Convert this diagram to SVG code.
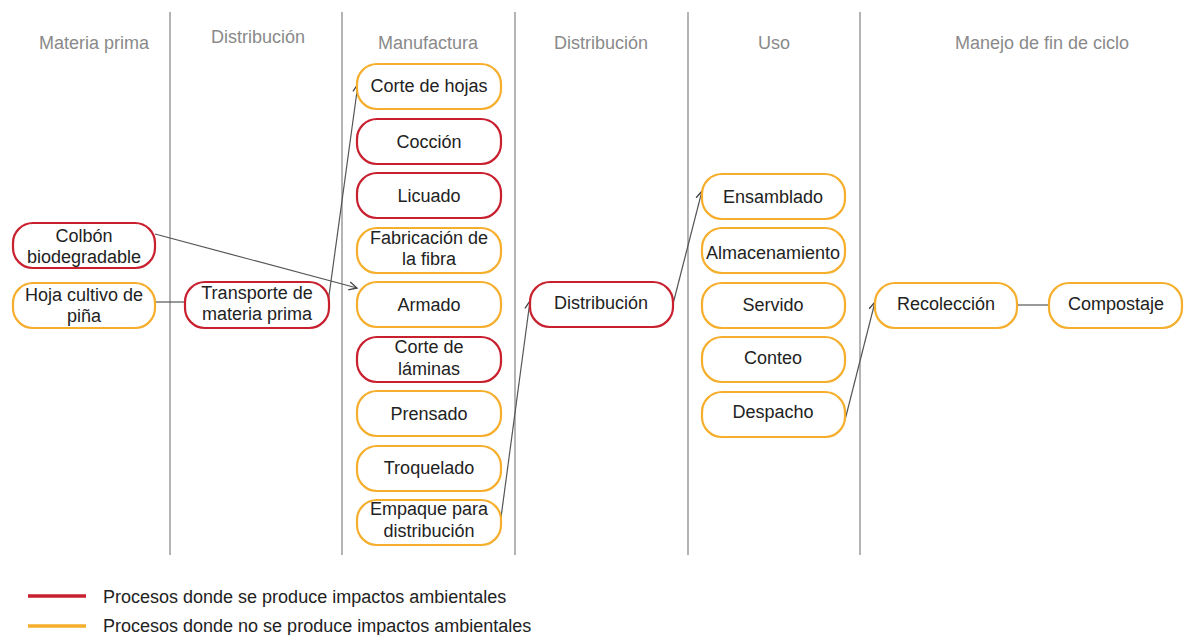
<svg xmlns="http://www.w3.org/2000/svg" width="1184" height="635" viewBox="0 0 1184 635">
<style>
  text { font-family: "Liberation Sans", Arial, sans-serif; font-size: 18px; text-anchor: middle; fill: #222; }
  .hdr { fill: #8a8a8a; }
  .leg { text-anchor: start; }
  .sep { stroke: #b4b4b4; stroke-width: 2; }
  .red { fill: #fff; stroke: #c8202f; stroke-width: 2.2; }
  .org { fill: #fff; stroke: #f6ae2d; stroke-width: 2.2; }
  .con { fill: none; stroke: #555; stroke-width: 1.2; }
</style>
<defs>
  <marker id="arr" markerUnits="userSpaceOnUse" markerWidth="12" markerHeight="12" refX="9" refY="5" orient="auto">
    <path d="M1,1 L9,5 L1,9" fill="none" stroke="#444" stroke-width="1.3"/>
  </marker>
</defs>
<rect width="1184" height="635" fill="#fff"/>

<g id="separators">
  <line class="sep" x1="170" y1="12" x2="170" y2="555"/>
  <line class="sep" x1="342" y1="12" x2="342" y2="555"/>
  <line class="sep" x1="515" y1="12" x2="515" y2="555"/>
  <line class="sep" x1="688" y1="12" x2="688" y2="555"/>
  <line class="sep" x1="860" y1="12" x2="860" y2="555"/>
</g>

<g id="headers">
  <text class="hdr" x="94" y="49">Materia prima</text>
  <text class="hdr" x="258" y="43">Distribución</text>
  <text class="hdr" x="428" y="49">Manufactura</text>
  <text class="hdr" x="601" y="49">Distribución</text>
  <text class="hdr" x="774" y="49">Uso</text>
  <text class="hdr" x="1042" y="49">Manejo de fin de ciclo</text>
</g>

<g id="connectors">
  <line class="con" x1="155" y1="234" x2="357" y2="288" marker-end="url(#arr)"/>
  <line class="con" x1="155" y1="302" x2="185" y2="302"/>
  <line class="con" x1="328" y1="303" x2="358" y2="84" marker-end="url(#arr)"/>
  <line class="con" x1="500" y1="525" x2="530" y2="301" marker-end="url(#arr)"/>
  <line class="con" x1="673" y1="304" x2="702" y2="191" marker-end="url(#arr)"/>
  <line class="con" x1="845" y1="420" x2="875" y2="302" marker-end="url(#arr)"/>
  <line class="con" x1="1017" y1="305" x2="1049" y2="305"/>
</g>

<g id="n-colbon"><rect class="red" x="13" y="223" width="142" height="45" rx="20"/><text x="84" y="242">Colbón</text><text x="84" y="263">biodegradable</text></g>
<g id="n-hoja"><rect class="org" x="13" y="283" width="142" height="45" rx="20"/><text x="84" y="301">Hoja cultivo de</text><text x="84" y="322">piña</text></g>
<g id="n-transporte"><rect class="red" x="185" y="282" width="144" height="46" rx="20"/><text x="257" y="299">Transporte de</text><text x="257" y="320">materia prima</text></g>

<g id="n-corte-hojas"><rect class="org" x="357" y="64" width="144" height="45" rx="20"/><text x="429" y="92">Corte de hojas</text></g>
<g id="n-coccion"><rect class="red" x="357" y="119" width="144" height="45" rx="20"/><text x="429" y="148">Cocción</text></g>
<g id="n-licuado"><rect class="red" x="357" y="173" width="144" height="45" rx="20"/><text x="429" y="202">Licuado</text></g>
<g id="n-fabricacion"><rect class="org" x="357" y="228" width="144" height="45" rx="20"/><text x="429" y="244">Fabricación de</text><text x="429" y="265">la fibra</text></g>
<g id="n-armado"><rect class="org" x="357" y="282" width="144" height="45" rx="20"/><text x="429" y="311">Armado</text></g>
<g id="n-corte-laminas"><rect class="red" x="357" y="337" width="144" height="45" rx="20"/><text x="429" y="353">Corte de</text><text x="429" y="375">láminas</text></g>
<g id="n-prensado"><rect class="org" x="357" y="391" width="144" height="45" rx="20"/><text x="429" y="420">Prensado</text></g>
<g id="n-troquelado"><rect class="org" x="357" y="446" width="144" height="45" rx="20"/><text x="429" y="474">Troquelado</text></g>
<g id="n-empaque"><rect class="org" x="357" y="500" width="144" height="45" rx="20"/><text x="429" y="515">Empaque para</text><text x="429" y="537">distribución</text></g>

<g id="n-distribucion"><rect class="red" x="530" y="282" width="143" height="45" rx="20"/><text x="601" y="309">Distribución</text></g>

<g id="n-ensamblado"><rect class="org" x="702" y="174" width="143" height="45" rx="20"/><text x="773" y="203">Ensamblado</text></g>
<g id="n-almacenamiento"><rect class="org" x="702" y="228" width="143" height="45" rx="20"/><text x="773" y="259">Almacenamiento</text></g>
<g id="n-servido"><rect class="org" x="702" y="283" width="143" height="45" rx="20"/><text x="773" y="311">Servido</text></g>
<g id="n-conteo"><rect class="org" x="702" y="337" width="143" height="45" rx="20"/><text x="773" y="364">Conteo</text></g>
<g id="n-despacho"><rect class="org" x="702" y="392" width="143" height="45" rx="20"/><text x="773" y="418">Despacho</text></g>

<g id="n-recoleccion"><rect class="org" x="875" y="283" width="142" height="45" rx="20"/><text x="946" y="310">Recolección</text></g>
<g id="n-compostaje"><rect class="org" x="1049" y="283" width="133" height="45" rx="20"/><text x="1116" y="310">Compostaje</text></g>

<g id="legend">
  <line x1="28" y1="596" x2="86" y2="596" stroke="#c8202f" stroke-width="3.5"/>
  <text class="leg" x="103" y="603">Procesos donde se produce impactos ambientales</text>
  <line x1="28" y1="626" x2="86" y2="626" stroke="#f6ae2d" stroke-width="3.5"/>
  <text class="leg" x="103" y="632">Procesos donde no se produce impactos ambientales</text>
</g>
</svg>
